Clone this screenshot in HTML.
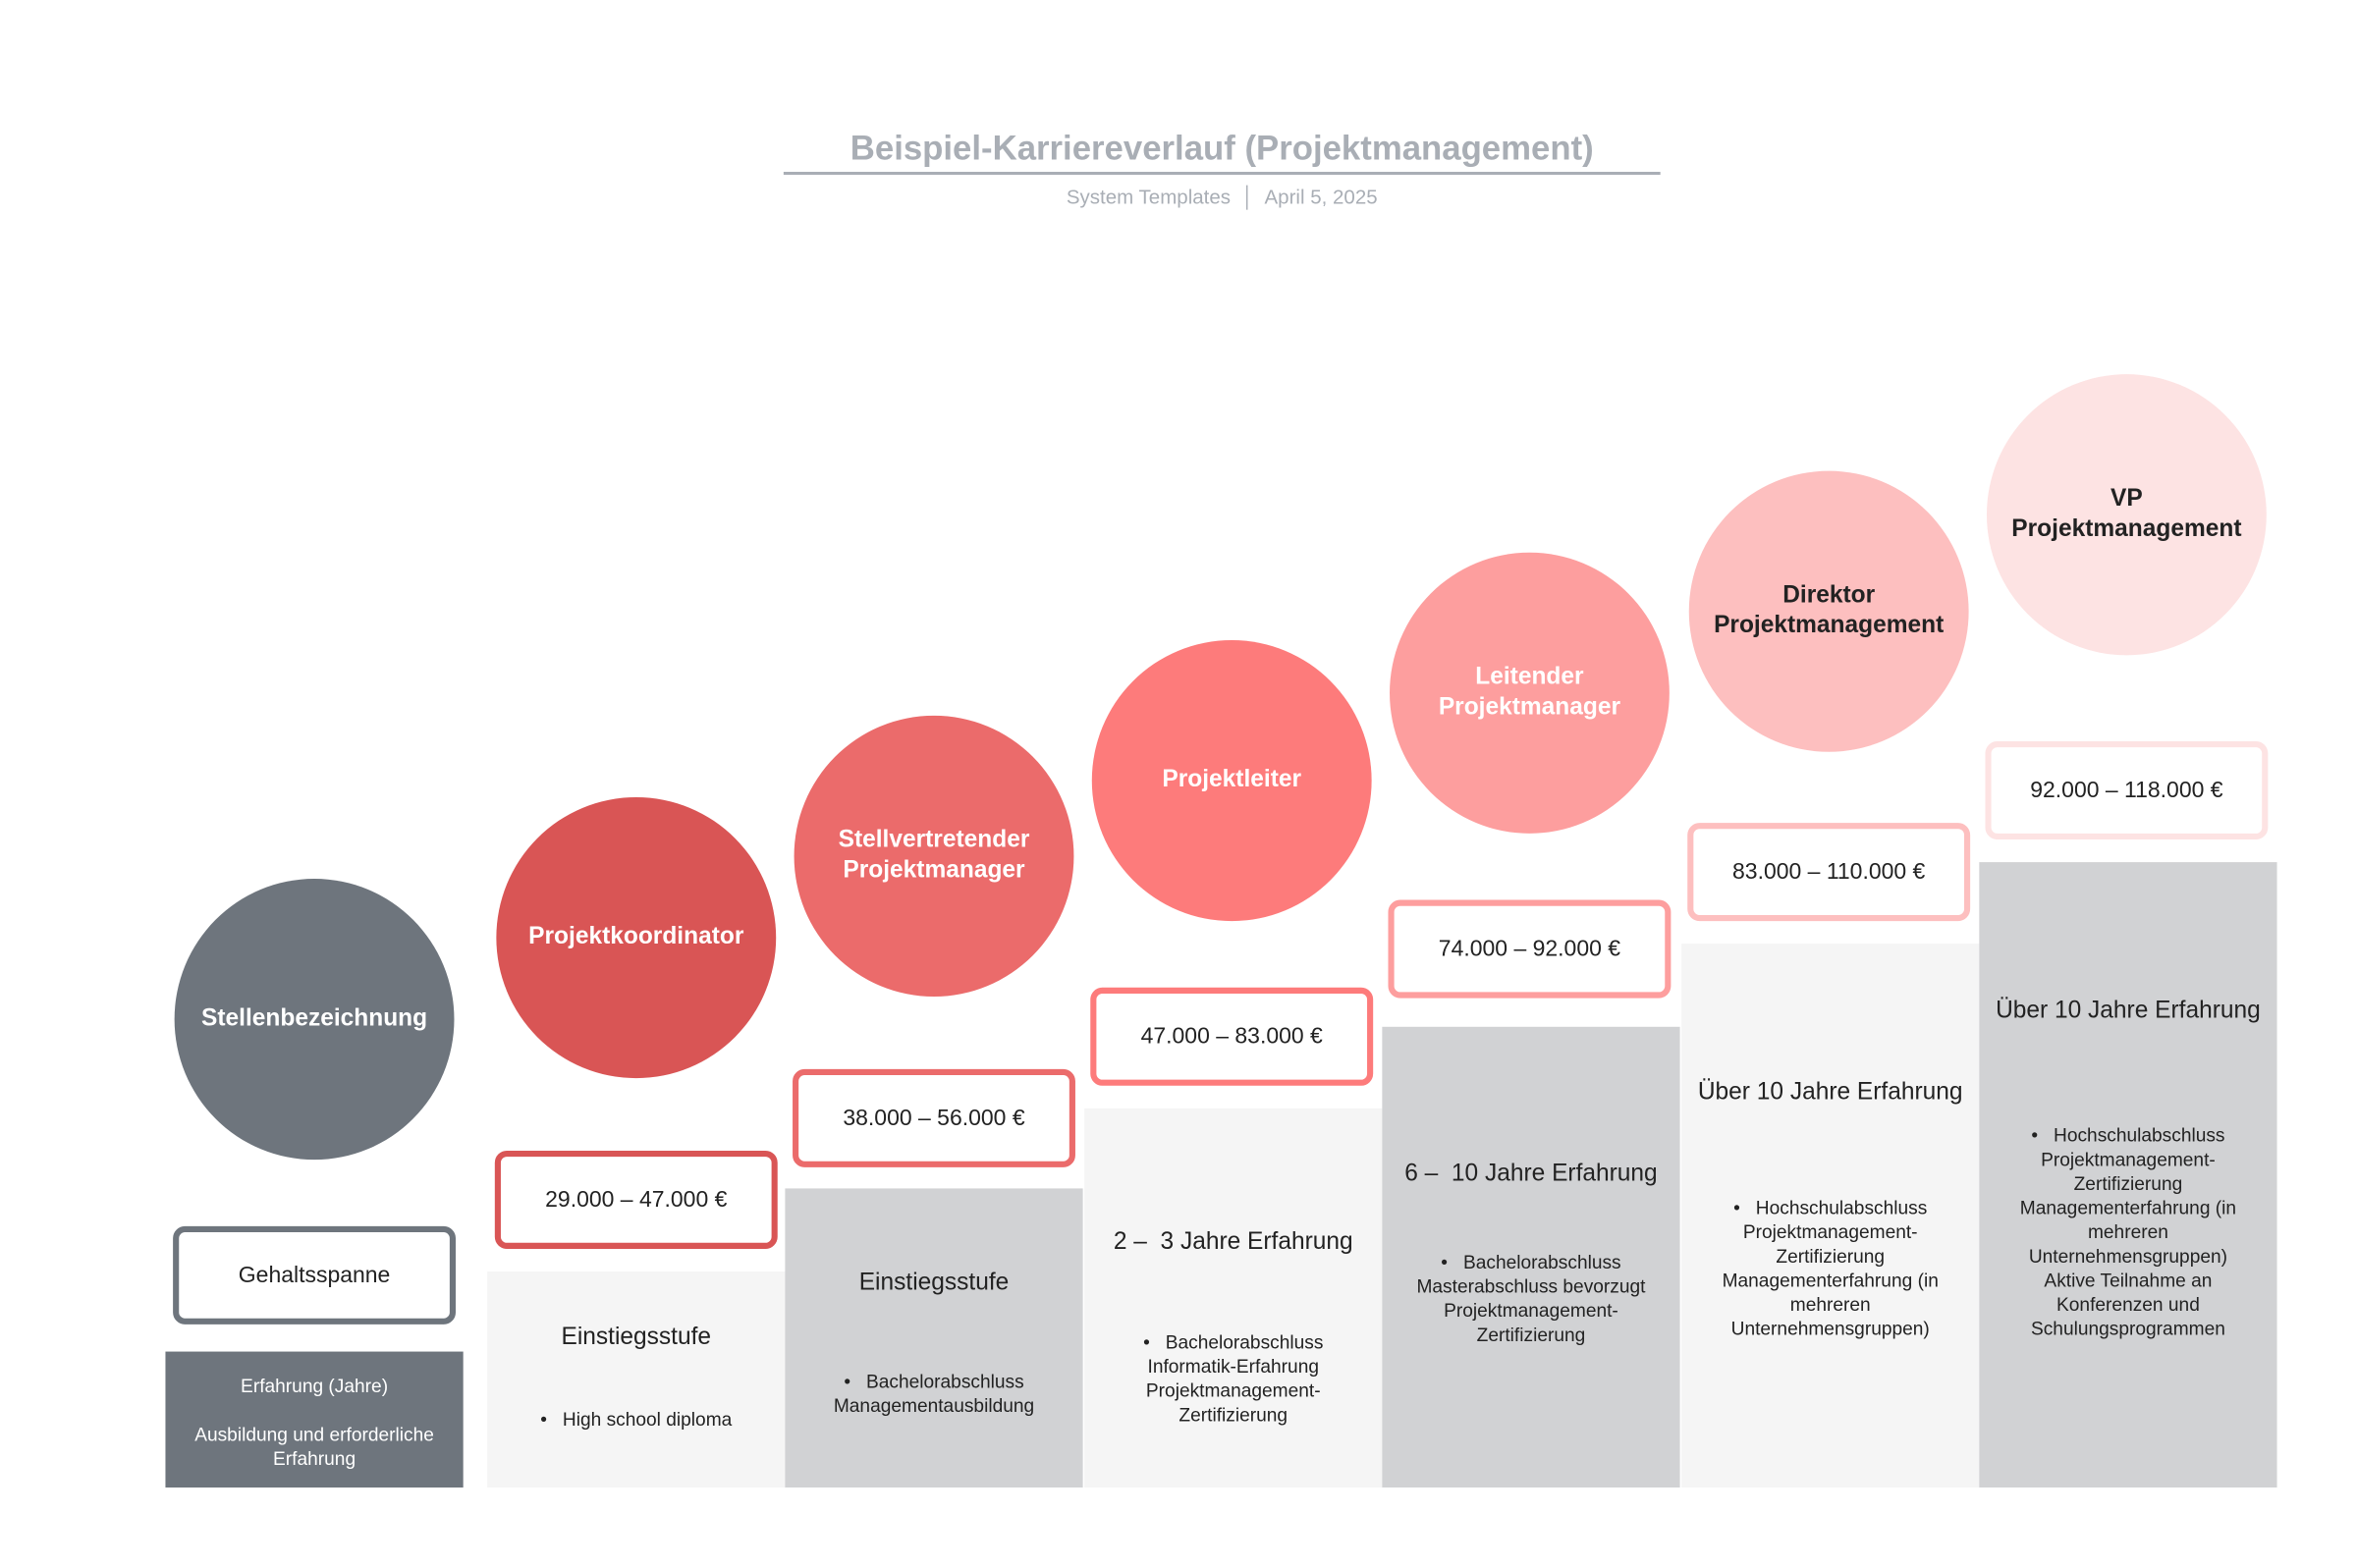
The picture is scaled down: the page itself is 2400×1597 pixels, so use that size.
<!DOCTYPE html>
<html><head><meta charset="utf-8"><style>
html,body{margin:0;padding:0;background:#fff;}
body{width:2400px;height:1597px;overflow:hidden;position:relative;font-family:"Liberation Sans",sans-serif;}
#s{position:absolute;left:0;top:0;width:1560px;height:1038px;transform:translate(0,-5px) scale(1.5314,1.5385);transform-origin:0 0;}
.a{position:absolute;}
.col{position:absolute;width:198px;bottom:50px;}
.c{position:absolute;width:186px;height:186px;border-radius:50%;display:flex;align-items:center;justify-content:center;text-align:center;font-weight:bold;font-size:16px;line-height:20px;color:#fff;}
.b{position:absolute;width:180px;height:57px;border:4px solid;border-radius:8px;background:#fff;display:flex;align-items:center;justify-content:center;font-size:15px;color:#222;}
.h{position:absolute;width:198px;text-align:center;font-size:16px;color:#222;}
.l{position:absolute;width:198px;text-align:center;font-size:12.5px;line-height:16px;color:#222;}
</style></head><body><div id="s">
<div class="a" style="left:521px;top:88px;width:583px;text-align:center;font-size:22.7px;font-weight:bold;color:#a9aeb5;">Beispiel-Karriereverlauf (Projektmanagement)</div>
<div class="a" style="left:521px;top:117px;width:583px;height:2px;background:#a9aeb5;"></div>
<div class="a" style="left:521px;top:126px;width:583px;text-align:center;font-size:13.4px;color:#a9aeb5;">System Templates &nbsp;│&nbsp; April 5, 2025</div>

<div class="col" style="left:110px;top:898px;background:#6e757d;"></div>
<div class="col" style="left:324px;top:845px;background:#f5f5f5;"></div>
<div class="col" style="left:522px;top:790px;background:#d1d2d4;"></div>
<div class="col" style="left:721px;top:737px;background:#f5f5f5;"></div>
<div class="col" style="left:919px;top:683px;background:#d1d2d4;"></div>
<div class="col" style="left:1118px;top:628px;background:#f5f5f5;"></div>
<div class="col" style="left:1316px;top:574px;background:#d1d2d4;"></div>

<div class="c" style="left:116px;top:585px;background:#6e757d;">Stellenbezeichnung</div>
<div class="c" style="left:330px;top:531px;background:#d95555;">Projektkoordinator</div>
<div class="c" style="left:528px;top:477px;background:#eb6b6b;">Stellvertretender<br>Projektmanager</div>
<div class="c" style="left:726px;top:427px;background:#fd7b7b;">Projektleiter</div>
<div class="c" style="left:924px;top:369px;background:#fd9e9e;">Leitender<br>Projektmanager</div>
<div class="c" style="left:1123px;top:315px;background:#fdbfbf;color:#222;">Direktor<br>Projektmanagement</div>
<div class="c" style="left:1321px;top:251px;background:#fde3e3;color:#222;">VP<br>Projektmanagement</div>

<div class="b" style="left:115px;top:815px;border-color:#6e757d;">Gehaltsspanne</div>
<div class="b" style="left:329px;top:765px;border-color:#d95555;">29.000 – 47.000 €</div>
<div class="b" style="left:527px;top:711px;border-color:#eb6b6b;">38.000 – 56.000 €</div>
<div class="b" style="left:725px;top:657px;border-color:#fd7b7b;">47.000 – 83.000 €</div>
<div class="b" style="left:923px;top:599px;border-color:#fd9e9e;">74.000 – 92.000 €</div>
<div class="b" style="left:1122px;top:548px;border-color:#fdbfbf;">83.000 – 110.000 €</div>
<div class="b" style="left:1320px;top:494px;border-color:#fde3e3;">92.000 – 118.000 €</div>

<div class="l" style="left:110px;top:913px;color:#fff;">Erfahrung (Jahre)</div>
<div class="l" style="left:110px;top:945px;color:#fff;">Ausbildung und erforderliche<br>Erfahrung</div>

<div class="h" style="left:324px;top:880px;">Einstiegsstufe</div>
<div class="l" style="left:324px;top:935px;">•&nbsp;&nbsp; High school diploma</div>

<div class="h" style="left:522px;top:844px;">Einstiegsstufe</div>
<div class="l" style="left:522px;top:910px;">•&nbsp;&nbsp; Bachelorabschluss<br>Managementausbildung</div>

<div class="h" style="left:721px;top:817px;">2 –&nbsp; 3 Jahre Erfahrung</div>
<div class="l" style="left:721px;top:884px;">•&nbsp;&nbsp; Bachelorabschluss<br>Informatik-Erfahrung<br>Projektmanagement-<br>Zertifizierung</div>

<div class="h" style="left:919px;top:772px;">6 –&nbsp; 10 Jahre Erfahrung</div>
<div class="l" style="left:919px;top:831px;">•&nbsp;&nbsp; Bachelorabschluss<br>Masterabschluss bevorzugt<br>Projektmanagement-<br>Zertifizierung</div>

<div class="h" style="left:1118px;top:718px;">Über 10 Jahre Erfahrung</div>
<div class="l" style="left:1118px;top:795px;">•&nbsp;&nbsp; Hochschulabschluss<br>Projektmanagement-<br>Zertifizierung<br>Managementerfahrung (in<br>mehreren<br>Unternehmensgruppen)</div>

<div class="h" style="left:1316px;top:664px;">Über 10 Jahre Erfahrung</div>
<div class="l" style="left:1316px;top:747px;">•&nbsp;&nbsp; Hochschulabschluss<br>Projektmanagement-<br>Zertifizierung<br>Managementerfahrung (in<br>mehreren<br>Unternehmensgruppen)<br>Aktive Teilnahme an<br>Konferenzen und<br>Schulungsprogrammen</div>
</div></body></html>
